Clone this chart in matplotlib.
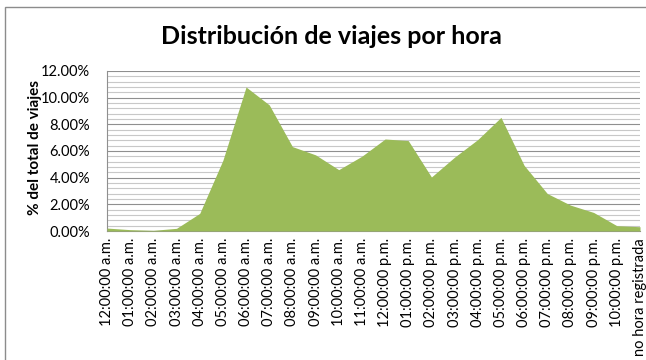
import matplotlib
matplotlib.use("Agg")
import matplotlib.pyplot as plt
from matplotlib.patches import Rectangle
from matplotlib.ticker import MultipleLocator, PercentFormatter

plt.rcParams['font.family'] = ['Lato', 'DejaVu Sans']

hours = [
    "12:00:00 a.m.", "01:00:00 a.m.", "02:00:00 a.m.", "03:00:00 a.m.",
    "04:00:00 a.m.", "05:00:00 a.m.", "06:00:00 a.m.", "07:00:00 a.m.",
    "08:00:00 a.m.", "09:00:00 a.m.", "10:00:00 a.m.", "11:00:00 a.m.",
    "12:00:00 p.m.", "01:00:00 p.m.", "02:00:00 p.m.", "03:00:00 p.m.",
    "04:00:00 p.m.", "05:00:00 p.m.", "06:00:00 p.m.", "07:00:00 p.m.",
    "08:00:00 p.m.", "09:00:00 p.m.", "10:00:00 p.m.", "no hora registrada",
]
share_pct = [
    0.22, 0.10, 0.05, 0.20, 1.32, 5.30, 10.80, 9.46,
    6.33, 5.71, 4.60, 5.61, 6.90, 6.78, 4.05, 5.54,
    6.86, 8.52, 4.92, 2.81, 1.94, 1.39, 0.40, 0.32,
]

fig = plt.figure(figsize=(6.46, 3.6), dpi=100)
fig.patch.set_facecolor("white")

# chart frame
fig.patches.append(Rectangle((5 / 646, -0.05), 1.2, 1 - 7 / 360 + 0.05,
                             transform=fig.transFigure, fill=False,
                             edgecolor="#8c8c8c", linewidth=1.0))

ax = fig.add_axes([107 / 646, 1 - 231 / 360, (640 - 107) / 646, (231 - 71) / 360])
x = list(range(len(hours)))
ax.fill_between(x, share_pct, 0, color="#9BBB59", linewidth=0, zorder=3)

ax.set_xlim(0, len(hours) - 1)
ax.set_ylim(0, 12)
ax.yaxis.set_major_locator(MultipleLocator(2))
ax.yaxis.set_minor_locator(MultipleLocator(0.4))
ax.yaxis.set_major_formatter(PercentFormatter(decimals=2))
ax.grid(which="major", axis="y", color="#8f8f8f", linewidth=0.8, zorder=1)
ax.grid(which="minor", axis="y", color="#c8c8c8", linewidth=0.8, zorder=1)

ax.set_xticks(x)
ax.set_xticklabels(hours, rotation=90, fontsize=10.5, va="top")
ax.tick_params(axis="x", length=0, pad=5)
ax.tick_params(axis="y", which="both", length=0, pad=12, labelsize=10.5)

for side in ("top", "right"):
    ax.spines[side].set_visible(False)
ax.spines["left"].set_color("#8f8f8f")
ax.spines["bottom"].set_color("#8f8f8f")

ax.set_ylabel("% del total de viajes", fontsize=11, fontweight="bold")
ax.yaxis.set_label_coords(-0.122, 0.52)
fig.text(331 / 646, 1 - 37 / 360, "Distribución de viajes por hora",
         ha="center", va="center", fontsize=18, fontweight="bold")

fig.savefig("out.png", dpi=100)
